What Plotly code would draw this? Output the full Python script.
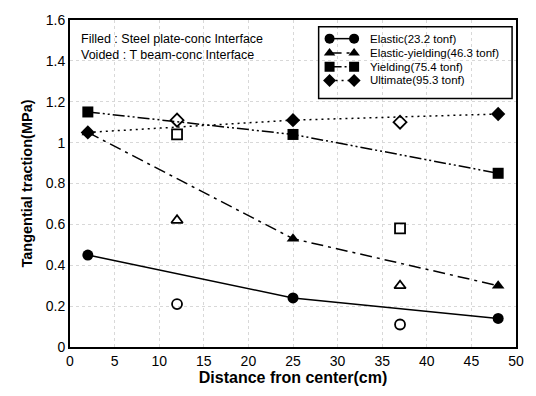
import plotly.graph_objects as go

# Distances from center (cm)
x_filled = [2, 25, 48]
x_voided = [12, 37]

# Tangential traction (MPa): filled = steel plate-conc interface, voided = T beam-conc interface
elastic_filled = [0.45, 0.24, 0.14]
elastic_voided = [0.21, 0.11]
elastic_yield_filled = [1.05, 0.53, 0.30]
elastic_yield_voided = [0.62, 0.30]
yielding_filled = [1.15, 1.04, 0.85]
yielding_voided = [1.04, 0.58]
ultimate_filled = [1.05, 1.11, 1.14]
ultimate_voided = [1.11, 1.10]

series_names = ["Elastic(23.2 tonf)", "Elastic-yielding(46.3 tonf)",
                "Yielding(75.4 tonf)", "Ultimate(95.3 tonf)"]
series_filled = [elastic_filled, elastic_yield_filled, yielding_filled, ultimate_filled]
series_voided = [elastic_voided, elastic_yield_voided, yielding_voided, ultimate_voided]
symbols = ["circle", "triangle-up", "square", "diamond"]
dashes = ["solid", "12px,5px,3px,5px", "12px,3px,2px,3px,2px,3px", "2px,4px"]

FONT = "Liberation Sans, Arial"

fig = go.Figure()
for name, yf, yv, sym, dash in zip(series_names, series_filled, series_voided, symbols, dashes):
    fig.add_trace(go.Scatter(
        x=x_filled, y=yf, name=name, mode="lines+markers", showlegend=False,
        line=dict(color="black", width=1.5, dash=dash),
        marker=dict(symbol=sym, size=11, color="black"),
    ))
    fig.add_trace(go.Scatter(
        x=x_voided, y=yv, name=name, mode="markers", showlegend=False,
        marker=dict(symbol=sym + "-open", size=10, color="black",
                    line=dict(width=1.8, color="black")),
    ))

# Legend box drawn by hand: key samples sit on an invisible overlay axis in [0, 1] space
key_x = [0.582, 0.637]
key_rows = [0.943, 0.899, 0.857, 0.815]
text_x = 0.668
for name, sym, dash, row in zip(series_names, symbols, dashes, key_rows):
    fig.add_trace(go.Scatter(
        x=key_x, y=[row, row], mode="lines+markers", showlegend=False,
        xaxis="x2", yaxis="y2", hoverinfo="skip",
        line=dict(color="black", width=1.5, dash=dash),
        marker=dict(symbol=sym, size=10, color="black"),
    ))
    fig.add_annotation(
        x=text_x, y=row, xref="paper", yref="paper", xanchor="left", yanchor="middle",
        text=name, showarrow=False,
        font=dict(family=FONT, size=11.5, color="black"),
    )
fig.add_shape(type="rect", xref="paper", yref="paper",
              x0=0.5575, x1=0.9912, y0=0.760, y1=0.979,
              line=dict(color="black", width=1.5))

fig.add_annotation(
    x=0, y=1, xref="paper", yref="paper", xanchor="left", yanchor="top",
    xshift=9, yshift=-10, align="left", showarrow=False,
    text="Filled : Steel plate-conc Interface<br>Voided : T beam-conc Interface",
    font=dict(family=FONT, size=12.5, color="black"),
)

axis_common = dict(
    showline=True, linecolor="black", linewidth=1.8, mirror=True,
    ticks="", zeroline=False,
    showgrid=True, gridcolor="#d8d8d8", griddash="dot", gridwidth=1,
    tickfont=dict(family=FONT, size=14, color="black"),
)

fig.update_xaxes(range=[0, 50], dtick=5, **axis_common,
                 title=dict(text="<b>Distance fron center(cm)</b>", standoff=4,
                            font=dict(family=FONT, size=16, color="black")))
fig.update_yaxes(range=[0, 1.6], dtick=0.2, **axis_common,
                 title=dict(text="<b>Tangential traction(MPa)</b>", standoff=10,
                            font=dict(family=FONT, size=14.5, color="black")))

fig.update_layout(
    width=536, height=396,
    margin=dict(l=70, r=14, t=15, b=47),
    plot_bgcolor="white", paper_bgcolor="white",
    showlegend=False,
    xaxis2=dict(overlaying="x", range=[0, 1], visible=False, fixedrange=True),
    yaxis2=dict(overlaying="y", range=[0, 1], visible=False, fixedrange=True),
)

fig.write_html("out.html")
